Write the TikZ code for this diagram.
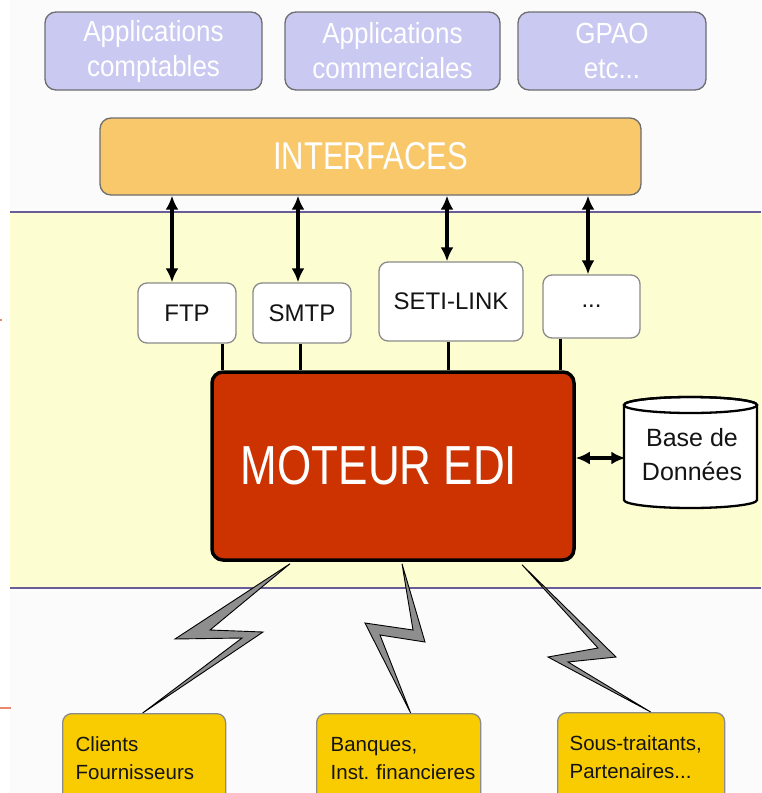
\documentclass[tikz,border=0pt]{standalone}
\usepackage{fontspec}
\usepackage{graphicx}
\setmainfont{Liberation Sans}
\usetikzlibrary{arrows.meta,calc}
\definecolor{lav}{HTML}{C9C9F2}
\definecolor{ifc}{HTML}{F8C86B}
\definecolor{bandc}{HTML}{FDFDD2}
\definecolor{bandl}{HTML}{6A5C96}
\definecolor{edi}{HTML}{CC3300}
\definecolor{ylw}{HTML}{F9CC02}
\definecolor{bordg}{HTML}{6E6E6E}
\definecolor{boltg}{HTML}{8E8E8E}
\definecolor{markc}{HTML}{E98A6E}
\definecolor{bgc}{HTML}{FBFBFB}
\definecolor{txtd}{HTML}{141414}
\frenchspacing
\begin{document}
\begin{tikzpicture}[x=1pt,y=1pt,
  appbox/.style={draw=bordg, line width=1.3pt, fill=lav, rounded corners=11pt, text=white,
    align=center, font=\fontsize{26}{35}\selectfont, inner sep=0pt},
  ifacebox/.style={draw=bordg, line width=1.3pt, fill=ifc, rounded corners=11pt, text=white,
    align=center, font=\fontsize{31}{36}\selectfont, inner sep=0pt},
  protobox/.style={draw=bordg!80, line width=1.3pt, fill=white, rounded corners=9pt, text=txtd,
    align=center, font=\fontsize{24}{28}\selectfont, inner sep=0pt},
  edibox/.style={draw=black, line width=3.5pt, fill=edi, rounded corners=11pt, text=white,
    align=center, font=\fontsize{44}{50}\selectfont, inner sep=0pt},
  partbox/.style={draw=bordg!80, line width=1.3pt, fill=ylw, rounded corners=9pt, text=txtd,
    align=left, font=\fontsize{20.5}{28}\selectfont, inner ysep=0pt, anchor=north west},
  dbtext/.style={text=txtd, align=center, font=\fontsize{25}{34}\selectfont, inner sep=0pt},
  dbl/.style={{Latex[length=14pt,width=13pt]}-{Latex[length=14pt,width=13pt]}, line width=3.2pt, black},
  link/.style={line width=3pt, black},
  bolt/.style={fill=boltg, draw=black, line width=0.9pt, line join=miter},
  bandline/.style={draw=bandl, line width=2pt}
]
\useasboundingbox (0,0) rectangle (761,-793);
\clip (0,0) rectangle (761,-793);
\fill[white] (0,0) rectangle (761,-793);
\fill[bgc] (10,0) rectangle (761,-793);
% band
\fill[bandc] (10,-212) rectangle (761,-588);
\draw[bandline] (10,-212) -- (761,-212);
\draw[bandline] (10,-588) -- (761,-588);
% small marks at the left edge
\draw[markc, line width=1.5pt] (0,-320) -- (2,-320);
\draw[markc, line width=1.5pt] (0,-708) -- (11,-708);

% top applications
\node[appbox, minimum width=217pt, minimum height=78pt] (app1) at (153.5,-51) {\scalebox{1}[1.12]{Applications}\\\scalebox{1}[1.12]{comptables}};
\node[appbox, minimum width=215pt, minimum height=78pt] (app2) at (392.5,-51) {\scalebox{1}[1.12]{Applications}\\\scalebox{1}[1.12]{commerciales}};
\node[appbox, minimum width=188pt, minimum height=78pt] (app3) at (612,-51) {\scalebox{1}[1.12]{GPAO}\\\scalebox{1}[1.12]{etc...}};

% interfaces
\node[ifacebox, minimum width=541pt, minimum height=77pt] (iface) at (370.5,-156.5) {\scalebox{1}[1.25]{INTERFACES}};

% protocol boxes
\node[protobox, minimum width=98pt, minimum height=60pt] (ftp) at (187,-313) {FTP};
\node[protobox, minimum width=98pt, minimum height=60pt] (smtp) at (302,-313) {SMTP};
\node[protobox, minimum width=144pt, minimum height=79pt] (seti) at (451,-301.5) {SETI-LINK};
\node[protobox, minimum width=97pt, minimum height=63pt] (etc) at (591.5,-306.5) {...};

% moteur
\node[edibox, minimum width=362pt, minimum height=188pt] (moteur) at (393,-466) {\hspace*{-28pt}\scalebox{1}[1.25]{MOTEUR EDI}};

% database cylinder
\draw[fill=white, line width=2.3pt] (624,-405) -- (624,-500)
  arc[start angle=180, end angle=360, x radius=66.5, y radius=8]
  -- (757,-405)
  arc[start angle=0, end angle=180, x radius=66.5, y radius=8] -- cycle;
\draw[line width=2.3pt] (690.5,-405) ellipse [x radius=66.5, y radius=8];
\node[dbtext, minimum width=133pt, minimum height=111pt] (db) at (692,-455) {Base de\\Données};

% partner boxes
\node[partbox, minimum height=90pt, text width=137pt, inner xsep=13pt] (cli) at (62,-713) {\mbox{Clients}\\\mbox{Fournisseurs}};
\node[partbox, minimum height=90pt, text width=136pt, inner xsep=14pt] (ban) at (316,-713) {\mbox{Banques,}\\\mbox{Inst. financieres}};
\node[partbox, minimum height=90pt, text width=143pt, inner xsep=12pt] (sous) at (557,-712) {\mbox{Sous-traitants,}\\\mbox{Partenaires...}};

% arrows interfaces <-> protocols
\draw[dbl] ([xshift=-15pt]ftp.north |- iface.south) -- ([xshift=-15pt]ftp.north);
\draw[dbl] ([xshift=-4pt]smtp.north |- iface.south) -- ([xshift=-4pt]smtp.north);
\draw[dbl] ([xshift=-4pt]seti.north |- iface.south) -- ([xshift=-4pt]seti.north);
\draw[dbl] ([xshift=-3.5pt]etc.north |- iface.south) -- ([xshift=-3.5pt]etc.north);

% protocols -- moteur
\draw[link] ([xshift=35pt]ftp.south) -- ([xshift=35pt]ftp.south |- moteur.north);
\draw[link] ([xshift=-2pt]smtp.south) -- ([xshift=-2pt]smtp.south |- moteur.north);
\draw[link] ([xshift=-3pt]seti.south) -- ([xshift=-3pt]seti.south |- moteur.north);
\draw[link] ([xshift=-31.5pt]etc.south) -- ([xshift=-31.5pt]etc.south |- moteur.north);

% moteur <-> database
\draw[dbl] ([yshift=8pt]moteur.east) -- ([yshift=8pt]moteur.east -| db.west);

% lightning bolts
\draw[bolt] ([xshift=-103pt,yshift=-2pt]moteur.south) -- (175,-639) -- (242,-638)
  -- ([xshift=-1.5pt]cli.north) -- (263,-632) -- (210,-630) -- cycle;
\draw[bolt] ([xshift=9pt,yshift=-2pt]moteur.south) -- (425,-642) -- (380,-635)
  -- ([xshift=12pt]ban.north) -- (365,-623) -- (413,-630) -- cycle;
\draw[bolt] ([xshift=129pt,yshift=-3pt]moteur.south) -- (616,-657) -- (568,-662)
  -- ([xshift=9.5pt]sous.north) -- (548,-657) -- (598,-648) -- cycle;
\end{tikzpicture}
\end{document}
